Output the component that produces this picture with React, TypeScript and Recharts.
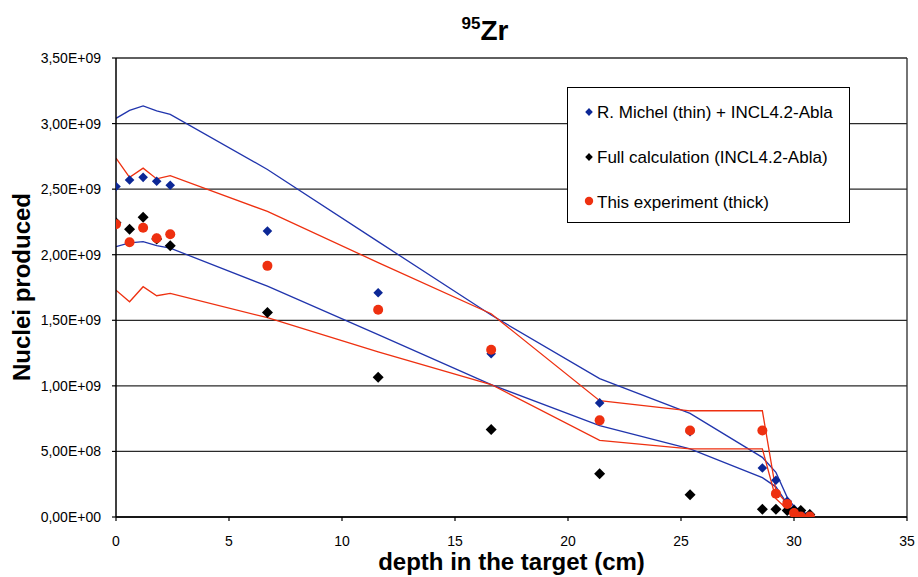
import React from 'react';
import {
  ComposedChart,
  Line,
  Scatter,
  XAxis,
  YAxis,
  CartesianGrid,
  Legend,
  ReferenceLine,
} from 'recharts';

// depth in the target (cm)
const depth = [0, 0.6, 1.2, 1.8, 2.4, 6.7, 11.6, 16.6, 21.4, 25.4, 28.6, 29.2, 29.7, 30.0, 30.3, 30.7];

// R. Michel (thin) + INCL4.2-Abla
const michelThin = [2.52e9, 2.57e9, 2.59e9, 2.56e9, 2.53e9, 2.18e9, 1.71e9, 1.245e9, 0.87e9, 0.65e9, 0.374e9, 0.28e9, 0.12e9, 0.06e9, 0.03e9, 0.02e9];
// Full calculation (INCL4.2-Abla)
const fullCalc = [2.244e9, 2.194e9, 2.285e9, 2.12e9, 2.069e9, 1.56e9, 1.066e9, 0.668e9, 0.33e9, 0.17e9, 0.06e9, 0.06e9, 0.05e9, 0.05e9, 0.05e9, 0.02e9];
// This experiment (thick)
const experiment = [2.232e9, 2.095e9, 2.206e9, 2.125e9, 2.156e9, 1.915e9, 1.58e9, 1.276e9, 0.737e9, 0.66e9, 0.66e9, 0.178e9, 0.10e9, 0.03e9, 0.003e9, 0.003e9];

// band lines
const michelUpper = [3.04e9, 3.10e9, 3.135e9, 3.097e9, 3.07e9, 2.65e9, 2.10e9, 1.54e9, 1.055e9, 0.79e9, 0.455e9, 0.34e9, 0.15e9, 0.08e9, 0.04e9, 0.02e9];
const michelLower = [2.061e9, 2.09e9, 2.10e9, 2.07e9, 2.05e9, 1.76e9, 1.39e9, 1.01e9, 0.696e9, 0.52e9, 0.30e9, 0.23e9, 0.10e9, 0.05e9, 0.02e9, 0.01e9];
const expUpper = [2.736e9, 2.59e9, 2.66e9, 2.578e9, 2.603e9, 2.33e9, 1.94e9, 1.55e9, 0.887e9, 0.81e9, 0.81e9, 0.20e9, 0.10e9, 0.05e9, 0.01e9, 0.005e9];
const expLower = [1.73e9, 1.641e9, 1.756e9, 1.687e9, 1.705e9, 1.52e9, 1.26e9, 1.01e9, 0.584e9, 0.52e9, 0.52e9, 0.14e9, 0.06e9, 0.02e9, 0.005e9, 0];

const xTicks = [0, 5, 10, 15, 20, 25, 30, 35];
const yTicks = [0, 5e8, 1e9, 1.5e9, 2e9, 2.5e9, 3e9, 3.5e9];

const seriesNames = [
  'R. Michel (thin) + INCL4.2-Abla',
  'Full calculation (INCL4.2-Abla)',
  'This experiment (thick)',
];

const BLUE_MARK = '#0c2796';
const BLUE_LINE = '#2135ad';
const RED = '#ee3010';
const BLACK = '#000000';
const FONT = '"Liberation Sans", Arial, sans-serif';

const pts = (ys: number[]) => depth.map((x, i) => ({ x, y: ys[i] }));

const fmtY = (v: number) => {
  if (v === 0) return '0,00E+00';
  const e = Math.floor(Math.log10(v) + 1e-9);
  const m = (v / Math.pow(10, e)).toFixed(2).replace('.', ',');
  return `${m}E+${String(e).padStart(2, '0')}`;
};

const diamond = (color: string, r: number) => (props: any) => {
  const { cx, cy } = props;
  if (cx == null || cy == null) return <g />;
  return (
    <path
      d={`M${cx},${cy - r}L${cx + r},${cy}L${cx},${cy + r}L${cx - r},${cy}Z`}
      fill={color}
    />
  );
};

const circle = (color: string, r: number) => (props: any) => {
  const { cx, cy } = props;
  if (cx == null || cy == null) return <g />;
  return <circle cx={cx} cy={cy} r={r} fill={color} />;
};

const LegendBox = () => (
  <div
    style={{
      width: 283,
      height: 136,
      boxSizing: 'border-box',
      border: '1px solid #000',
      background: '#fff',
    }}
  >
    <svg width={281} height={134} style={{ display: 'block' }}>
      <path d="M21,20 L24.8,24 L21,28 L17.2,24 Z" fill={BLUE_MARK} />
      <text x={29} y={30} fontSize={17} fontFamily={FONT} fill="#000">{seriesNames[0]}</text>
      <path d="M21,65 L24.8,69 L21,73 L17.2,69 Z" fill={BLACK} />
      <text x={29} y={75} fontSize={17} fontFamily={FONT} fill="#000">{seriesNames[1]}</text>
      <circle cx={21} cy={113} r={4.2} fill={RED} />
      <text x={29} y={120} fontSize={17} fontFamily={FONT} fill="#000">{seriesNames[2]}</text>
    </svg>
  </div>
);

export default function App() {
  return (
    <div style={{ position: 'absolute', left: 0, top: 0, width: 918, height: 577, background: '#fff' }}>
      <ComposedChart
        width={918}
        height={577}
        margin={{ top: 58, right: 11, bottom: 30, left: 0 }}
        style={{ fontFamily: FONT }}
      >
        <CartesianGrid vertical={false} stroke="#2a2a2a" strokeWidth={1.3} />
        <XAxis
          type="number"
          dataKey="x"
          domain={[0, 35]}
          ticks={xTicks}
          allowDataOverflow
          height={30}
          tickSize={4}
          tickMargin={15}
          axisLine={{ stroke: '#000', strokeWidth: 1.5 }}
          tickLine={{ stroke: '#000', strokeWidth: 1.2 }}
          tick={{ fill: '#000', fontSize: 14, fontFamily: FONT }}
          label={{
            value: 'depth in the target (cm)',
            position: 'bottom',
            offset: 6,
            style: { fontWeight: 'bold', fontSize: 24, fill: '#000', fontFamily: FONT },
          }}
        />
        <YAxis
          type="number"
          dataKey="y"
          domain={[0, 3.5e9]}
          ticks={yTicks}
          allowDataOverflow
          width={116}
          tickSize={4}
          tickMargin={11}
          tickFormatter={fmtY}
          axisLine={{ stroke: '#000', strokeWidth: 1.5 }}
          tickLine={{ stroke: '#000', strokeWidth: 1.2 }}
          tick={{ fill: '#000', fontSize: 14, fontFamily: FONT }}
          label={{
            content: () => (
              <text
                x={30}
                y={287}
                transform="rotate(-90 30 287)"
                textAnchor="middle"
                fontWeight="bold"
                fontSize={24}
                fill="#000"
                fontFamily={FONT}
              >
                Nuclei produced
              </text>
            ),
          }}
        />
        <ReferenceLine x={35} stroke="#2a2a2a" strokeWidth={1.3} />
        <Line data={pts(michelUpper)} dataKey="y" type="linear" stroke={BLUE_LINE} strokeWidth={1.3} dot={false} isAnimationActive={false} legendType="none" />
        <Line data={pts(michelLower)} dataKey="y" type="linear" stroke={BLUE_LINE} strokeWidth={1.3} dot={false} isAnimationActive={false} legendType="none" />
        <Line data={pts(expUpper)} dataKey="y" type="linear" stroke={RED} strokeWidth={1.3} dot={false} isAnimationActive={false} legendType="none" />
        <Line data={pts(expLower)} dataKey="y" type="linear" stroke={RED} strokeWidth={1.3} dot={false} isAnimationActive={false} legendType="none" />
        <Scatter name={seriesNames[0]} data={pts(michelThin)} dataKey="y" shape={diamond(BLUE_MARK, 4.8)} isAnimationActive={false} />
        <Scatter name={seriesNames[1]} data={pts(fullCalc)} dataKey="y" shape={diamond(BLACK, 5.5)} isAnimationActive={false} />
        <Scatter name={seriesNames[2]} data={pts(experiment)} dataKey="y" shape={circle(RED, 5)} isAnimationActive={false} />
        <Legend
          layout="vertical"
          align="center"
          verticalAlign="middle"
          content={() => <LegendBox />}
          wrapperStyle={{ position: 'absolute', left: 567, top: 87, width: 283, height: 136 }}
        />
      </ComposedChart>
      <svg
        width={918}
        height={60}
        style={{ position: 'absolute', left: 0, top: 0, pointerEvents: 'none' }}
      >
        <text x={485} y={40} textAnchor="middle" fontFamily={FONT} fontWeight="bold" fill="#000">
          <tspan fontSize={17} dy={-11}>95</tspan>
          <tspan fontSize={28} dy={11}>Zr</tspan>
        </text>
      </svg>
    </div>
  );
}
